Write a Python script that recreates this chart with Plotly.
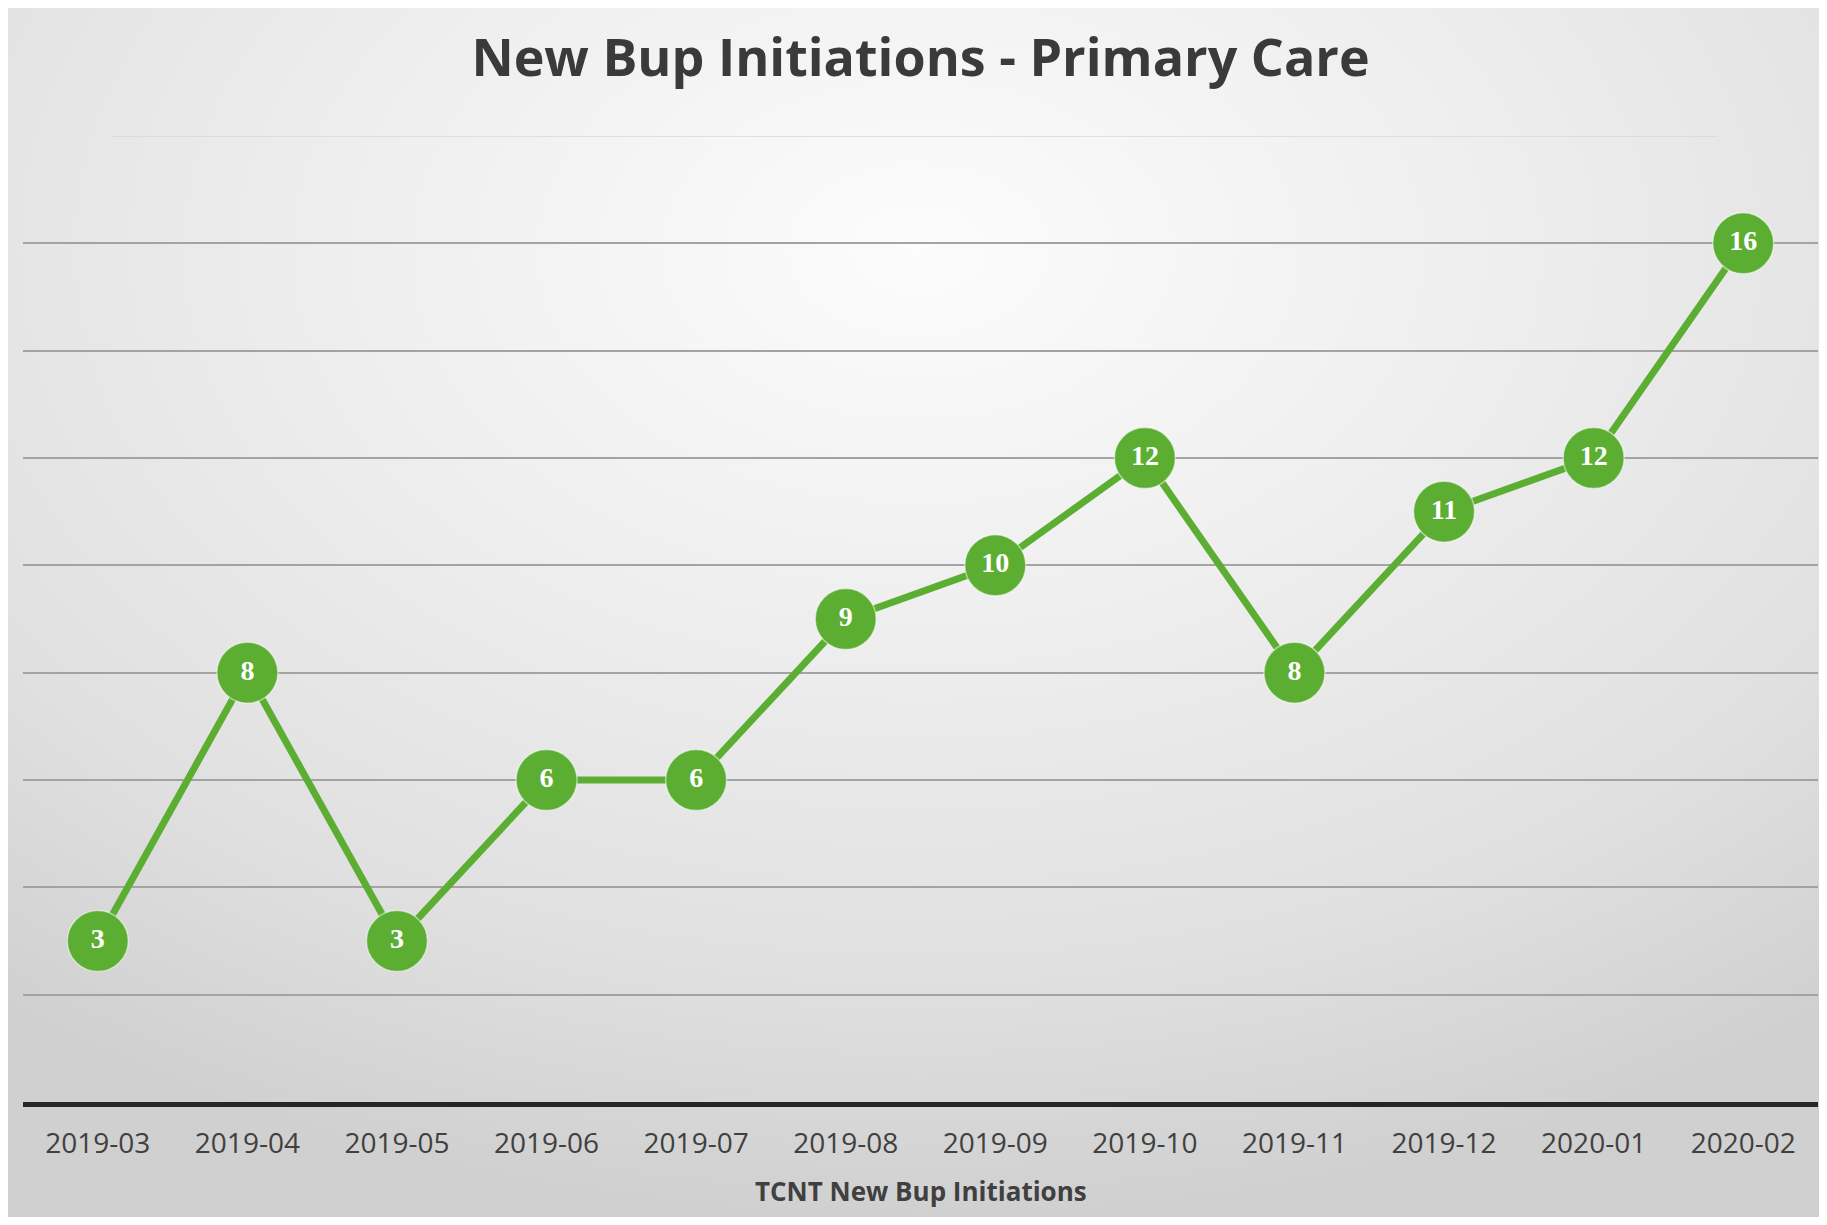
import base64
import plotly.graph_objects as go

# ---- data ----
months = ["2019-03", "2019-04", "2019-05", "2019-06", "2019-07", "2019-08",
          "2019-09", "2019-10", "2019-11", "2019-12", "2020-01", "2020-02"]
initiations = [3, 8, 3, 6, 6, 9, 10, 12, 8, 11, 12, 16]

title_text = "New Bup Initiations - Primary Care"
xaxis_title = "TCNT New Bup Initiations"

# figure sits inside the page's default 8px body margin
W, H = 1819, 1209
ML, MR, MT, MB = 15, 9, 128, 115
PW, PH = W - ML - MR, H - MT - MB
GREEN = "#5cae33"
TXT = "#404040"

# soft radial gradient background as an inline SVG
svg = f'''<svg xmlns="http://www.w3.org/2000/svg" width="{W}" height="{H}" viewBox="0 0 {W} {H}" preserveAspectRatio="none">
<defs><radialGradient id="g" cx="0.5" cy="0.2" r="0.8">
<stop offset="0" stop-color="#fcfcfc"/>
<stop offset="0.4" stop-color="#eeeeee"/>
<stop offset="0.75" stop-color="#e0e0e0"/>
<stop offset="1" stop-color="#d0d0d0"/>
</radialGradient></defs>
<rect x="0" y="0" width="{W}" height="{H}" fill="url(#g)"/>
</svg>'''
bg_src = "data:image/svg+xml;base64," + base64.b64encode(svg.encode()).decode()

fig = go.Figure()
fig.add_trace(go.Scatter(
    x=months, y=initiations,
    mode="lines+markers+text",
    line=dict(color=GREEN, width=7),
    marker=dict(size=61, color=GREEN, line=dict(width=1.5, color="rgba(255,255,255,0.5)")),
    text=[str(v) for v in initiations],
    textposition="middle center",
    textfont=dict(family="Liberation Serif", size=28, color="white", weight="bold"),
    cliponaxis=False,
    hoverinfo="x+y",
    showlegend=False,
))

fig.update_layout(
    width=W, height=H,
    margin=dict(l=ML, r=MR, t=MT, b=MB, autoexpand=False),
    paper_bgcolor="#e6e6e6",
    plot_bgcolor="rgba(0,0,0,0)",
    images=[dict(source=bg_src, xref="paper", yref="paper",
                 x=-ML / PW, y=1 + MT / PH,
                 sizex=W / PW, sizey=H / PH, xanchor="left", yanchor="top",
                 sizing="stretch", layer="below")],
    title=dict(text=title_text, x=0.5, xref="paper", xanchor="center",
               y=1 - 50 / H, yanchor="middle",
               font=dict(family="Open Sans", size=52, color="#3a3a3a", weight="bold")),
    font=dict(family="Open Sans", color=TXT),
    annotations=[dict(text=xaxis_title, xref="paper", yref="paper", x=0.5, y=-89 / PH,
                      xanchor="center", yanchor="middle", showarrow=False,
                      font=dict(family="Open Sans", size=26, color=TXT, weight="bold"))],
)

fig.update_xaxes(
    type="category",
    range=[-0.5, len(months) - 0.5],
    automargin=False,
    showgrid=False,
    showline=True, linecolor="#262626", linewidth=5,
    ticks="outside", ticklen=12, tickcolor="rgba(0,0,0,0)",
    tickfont=dict(family="Open Sans", size=28, color=TXT),
    zeroline=False,
)
fig.update_yaxes(
    range=[0, 18],
    automargin=False,
    tickvals=[2, 4, 6, 8, 10, 12, 14, 16],
    showticklabels=False,
    showgrid=True, gridcolor="#a3a3a3", gridwidth=1.5,
    zeroline=False, showline=False,
)
# faint top gridline
fig.add_shape(type="line", xref="paper", yref="y", x0=0.049, x1=0.944, y0=18, y1=18,
              line=dict(color="#d9d9d9", width=1.5), layer="below")

fig.write_html("out.html")
